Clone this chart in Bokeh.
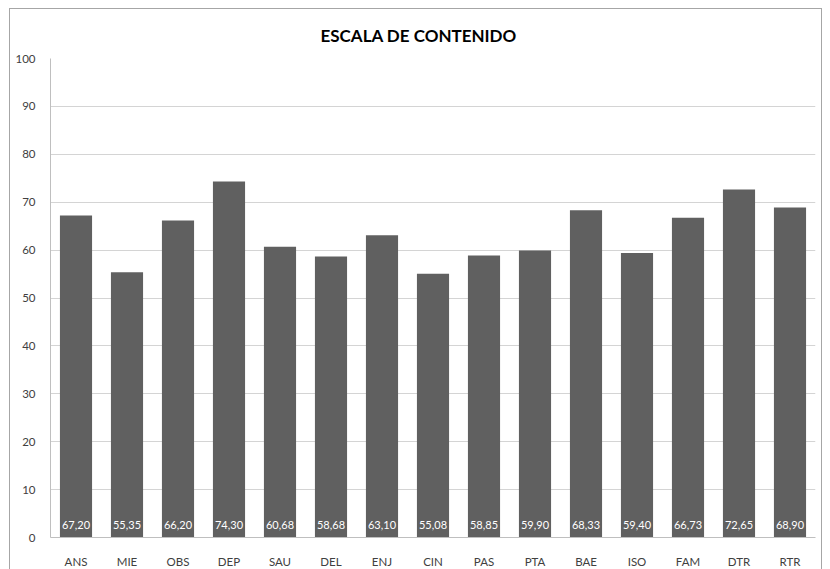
from bokeh.plotting import figure
from bokeh.models import ColumnDataSource, Title
from bokeh.core.properties import value
from bokeh.embed import file_html
from bokeh.resources import INLINE

# Content scale scores
categories = ["ANS", "MIE", "OBS", "DEP", "SAU", "DEL", "ENJ", "CIN",
              "PAS", "PTA", "BAE", "ISO", "FAM", "DTR", "RTR"]
scores = [67.20, 55.35, 66.20, 74.30, 60.68, 58.68, 63.10, 55.08,
          58.85, 59.90, 68.33, 59.40, 66.73, 72.65, 68.90]
y_ticks = [0, 10, 20, 30, 40, 50, 60, 70, 80, 90, 100]

FONT = "Lato"

labels = [f"{v:.2f}".replace(".", ",") for v in scores]
src = ColumnDataSource(dict(cat=categories, val=scores, lab=labels))

p = figure(
    x_range=categories, y_range=(0, 100),
    width=813, height=562, margin=(8, 0, 0, 9),
    output_backend="svg", toolbar_location=None,
    min_border_left=40, min_border_right=8, min_border_top=30, min_border_bottom=34,
)
p.styles = {"border": "1px solid #a6a6a6", "box-sizing": "border-box"}

p.title = Title(text="ESCALA DE CONTENIDO", align="left", offset=270,
                text_font=FONT, text_font_size="17px", text_font_style="bold",
                text_color="#000000", standoff=26)

p.vbar(x="cat", top="val", width=0.63, source=src,
       fill_color="#606060", line_color=None)

p.text(x="cat", y=0, text="lab", source=src, text_color="white",
       text_font=value(FONT), text_font_size="11px",
       text_align="center", text_baseline="bottom", y_offset=-9)

p.yaxis.ticker = y_ticks
p.yaxis.major_tick_line_color = None
p.yaxis.minor_tick_line_color = None
p.yaxis.axis_line_color = "#bfbfbf"
p.yaxis.major_label_text_font = FONT
p.yaxis.major_label_text_font_size = "11.5px"
p.yaxis.major_label_text_color = "#404040"
p.yaxis.major_label_standoff = 9

p.xaxis.major_tick_line_color = None
p.xaxis.axis_line_color = "#bfbfbf"
p.xaxis.major_label_text_font = FONT
p.xaxis.major_label_text_font_size = "11.5px"
p.xaxis.major_label_text_color = "#404040"
p.xaxis.major_label_standoff = 11

p.xgrid.grid_line_color = None
p.ygrid.grid_line_color = "#d4d4d4"
p.ygrid.ticker = y_ticks
p.outline_line_color = None
p.background_fill_color = "white"
p.border_fill_color = "white"

open("out.html", "w").write(file_html(p, INLINE))
